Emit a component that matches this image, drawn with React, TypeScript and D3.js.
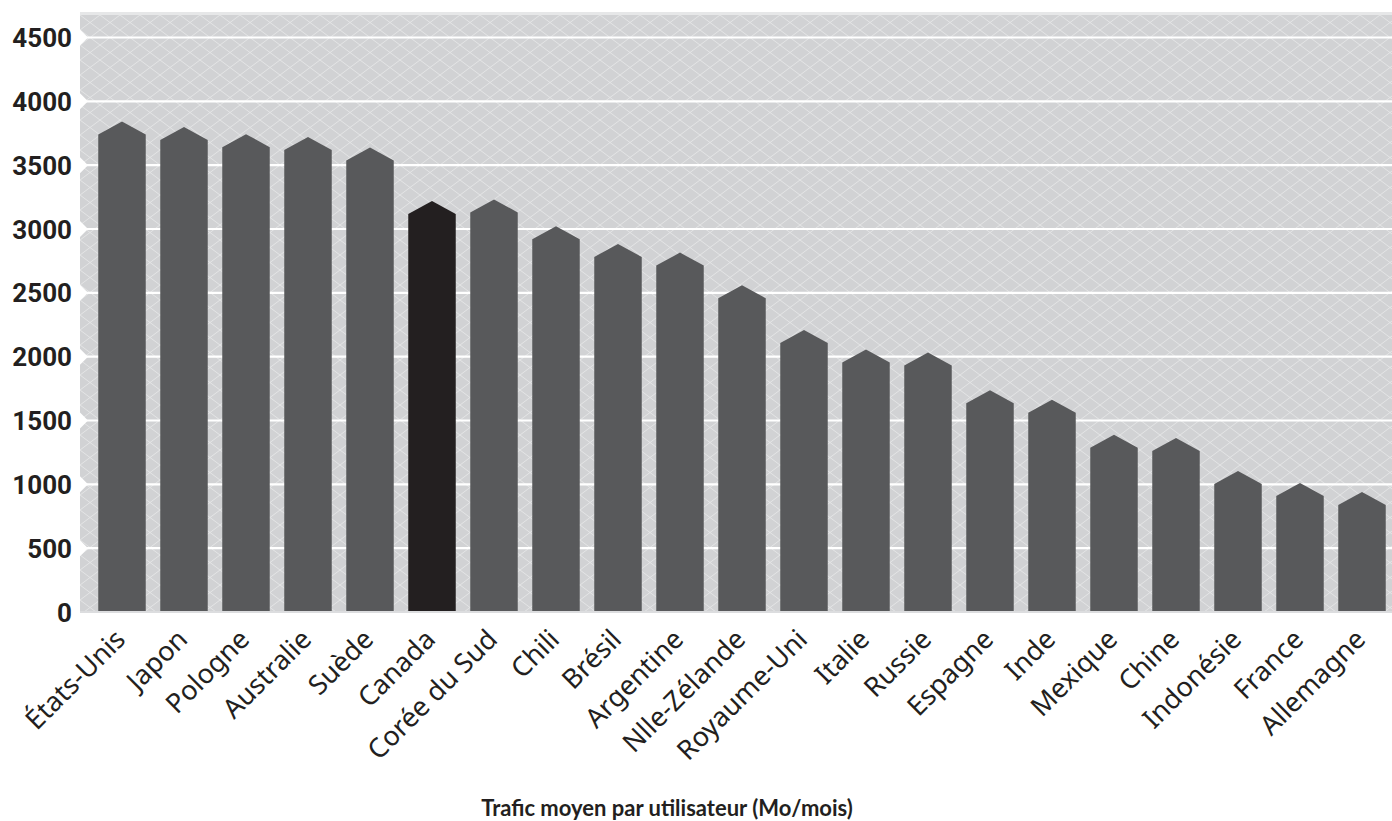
import React from "react";
import * as d3 from "d3";

const countries = [
  "États-Unis", "Japon", "Pologne", "Australie", "Suède", "Canada", "Corée du Sud",
  "Chili", "Brésil", "Argentine", "Nlle-Zélande", "Royaume-Uni", "Italie", "Russie",
  "Espagne", "Inde", "Mexique", "Chine", "Indonésie", "France", "Allemagne",
];
const traffic = [
  3843, 3798, 3743, 3720, 3639, 3219, 3232, 3021, 2883, 2815, 2559, 2209, 2056, 2033,
  1737, 1662, 1388, 1362, 1104, 1010, 939,
];
const highlighted = ["Canada"];
const yTicks = [0, 500, 1000, 1500, 2000, 2500, 3000, 3500, 4000, 4500];
const axisTitle = "Trafic moyen par utilisateur (Mo/mois)";

export default function App() {
  const W = 1392, H = 821;
  const plotLeft = 80, plotRight = 1392, plotTop = 15, plotBottom = 613;
  const x = d3.scaleBand<string>().domain(countries).range([91, 1393]).paddingInner(0.234).paddingOuter(0.117);
  const y = d3.scaleLinear().domain([0, 4500]).range([612, 37.5]);
  const roof = 13;

  return (
    <svg width={W} height={H} style={{ position: "absolute", left: 0, top: 0, display: "block" }}>
      <defs>
        <pattern id="hatch" patternUnits="userSpaceOnUse" width={20} height={15} x={plotLeft} y={plotTop}>
          <rect width={20} height={15} fill="#d1d2d4" />
          <path d="M0,0 L20,15 M20,0 L0,15" stroke="#e4e5e6" strokeWidth={1} fill="none" />
        </pattern>
      </defs>
      <rect x={0} y={0} width={W} height={H} fill="#ffffff" />
      <rect x={plotLeft} y={12} width={plotRight - plotLeft} height={3} fill="#e6e7e8" />
      <rect x={plotLeft} y={plotTop} width={plotRight - plotLeft} height={plotBottom - plotTop} fill="url(#hatch)" />
      {yTicks.filter((t) => t > 0).map((t) => (
        <g key={"g" + t}>
          <line x1={plotLeft} x2={plotRight} y1={y(t)} y2={y(t)} stroke="#ffffff" strokeWidth={2.2} />
          <polygon points={`${plotLeft},${y(t) - 8} ${plotLeft + 8},${y(t)} ${plotLeft},${y(t) + 8}`} fill="#ffffff" />
        </g>
      ))}
      <rect x={plotLeft} y={611} width={plotRight - plotLeft} height={2} fill="#dcdddf" />
      {countries.map((c, i) => {
        const x0 = x(c)!;
        const x1 = x0 + x.bandwidth();
        const cx = x0 + x.bandwidth() / 2;
        const yp = y(traffic[i]);
        const d = `M${x0},${y(0) - 1} L${x0},${yp + roof} L${cx},${yp} L${x1},${yp + roof} L${x1},${y(0) - 1} Z`;
        return <path key={c} d={d} fill={highlighted.includes(c) ? "#231f20" : "#58595b"} />;
      })}
      {yTicks.map((t) => (
        <text key={"t" + t} x={72} y={y(t) + 9.5} textAnchor="end" fontFamily="Roboto, sans-serif" fontWeight={700}
          fontSize={26} fill="#231f20">{t}</text>
      ))}
      {countries.map((c) => {
        const cx = x(c)! + x.bandwidth() / 2;
        return (
          <text key={"l" + c} transform={`translate(${cx + 5},641) rotate(-45)`} textAnchor="end"
            fontFamily="'Noto Sans', sans-serif" fontSize={27} fill="#231f20">{c}</text>
        );
      })}
      <text x={667} y={816} textAnchor="middle" fontFamily="Lato, sans-serif" fontWeight={700} fontSize={22}
        fill="#231f20">{axisTitle}</text>
    </svg>
  );
}
